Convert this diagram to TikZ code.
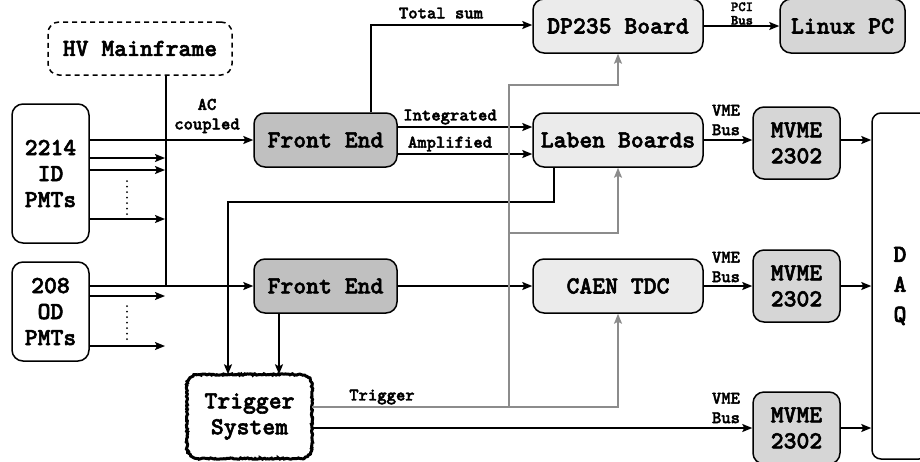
\documentclass[tikz,border=0pt]{standalone}
\usepackage{fontspec}
\newfontfamily\monob{lmmonolt10-bold.otf}[FakeBold=2.2]
\usetikzlibrary{arrows.meta,decorations.pathmorphing}
\newcommand\BigFont{\monob\fontsize{24.5}{26}\selectfont}
\newcommand\DaqFont{\monob\fontsize{24.5}{30}\selectfont}
\newcommand\SmallFont{\monob\fontsize{17.8}{19.5}\selectfont}
\newcommand\PciFont{\monob\fontsize{14}{13.5}\selectfont}
\definecolor{feFill}{HTML}{C0C0C0}
\definecolor{lightFill}{HTML}{EBEBEB}
\definecolor{midFill}{HTML}{D6D6D6}
\definecolor{trigGray}{HTML}{8C8C8C}
\tikzset{
  box/.style={draw, line width=1.5pt, rounded corners=11pt, align=center, font=\BigFont, inner sep=0pt},
  febox/.style={box, fill=feFill, minimum width=143pt, minimum height=54pt},
  lightbox/.style={box, fill=lightFill, minimum width=170pt, minimum height=54pt},
  midbox/.style={box, fill=midFill},
  wire/.style={line width=1.6pt},
  arr/.style={wire, -{Stealth[length=10pt,width=8pt,inset=2pt]}},
  garr/.style={arr, draw=trigGray, color=trigGray},
  lbl/.style={font=\SmallFont, align=center, inner sep=0pt},
  dots/.style={line width=2pt, line cap=round, dash pattern=on 0pt off 5.5pt},
  rough/.style={line width=3pt, decorate, decoration={random steps, segment length=1.3pt, amplitude=0.7pt}},
}
\begin{document}
\begin{tikzpicture}[x=1pt,y=-1pt]
\clip (0,0) rectangle (920,461);
\fill[white] (0,0) rectangle (920,461);

% nodes
\node[box, dashed, dash pattern=on 5pt off 4pt, minimum width=184pt, minimum height=53pt] (hv) at (140,48.5) {HV Mainframe};
\node[box, minimum width=77pt, minimum height=139pt] (id) at (50.5,173.5) {2214\\ID\\PMTs};
\node[box, minimum width=77pt, minimum height=99pt] (od) at (50.5,311.5) {208\\OD\\PMTs};
\node[febox] (fe1) at (325.5,140) {Front End};
\node[febox] (fe2) at (325.5,286) {Front End};
\node[align=center, font=\BigFont, inner sep=0pt, minimum width=125pt, minimum height=84pt] (trig) at (249.5,416.5) {Trigger\\System};
\draw[rough] (198,374.5) -- (301,374.5) arc[start angle=-90, end angle=0, radius=11]
  -- (312,447.5) arc[start angle=0, end angle=90, radius=11]
  -- (198,458.5) arc[start angle=90, end angle=180, radius=11]
  -- (187,385.5) arc[start angle=180, end angle=270, radius=11] -- cycle;
\node[lightbox] (dp) at (618,26) {DP235 Board};
\node[midbox, minimum width=125pt, minimum height=54pt] (pc) at (842.5,26) {Linux PC};
\node[lightbox] (laben) at (618,140) {Laben Boards};
\node[lightbox] (caen) at (618,286) {CAEN TDC};
\node[midbox, minimum width=87pt, minimum height=72pt] (m1) at (796.5,143) {MVME\\2302};
\node[midbox, minimum width=87pt, minimum height=72pt] (m2) at (796.5,286) {MVME\\2302};
\node[midbox, minimum width=87pt, minimum height=72pt] (m3) at (796.5,428) {MVME\\2302};
\node[box, rounded corners=9pt, minimum width=56pt, minimum height=346pt, font=\DaqFont] (daq) at (900,286) {D\\A\\Q};

% HV distribution line
\coordinate (hvj) at (166,286);
\draw[wire] (hv.south -| hvj) -- (hvj);

% ID PMTs
\draw[arr] (id.east |- fe1.west) -- (fe1.west);
\coordinate (ida) at (165,158);
\coordinate (idb) at (165,170);
\coordinate (idc) at (165,219);
\draw[arr] (id.east |- ida) -- (ida);
\draw[arr] (id.east |- idb) -- (idb);
\draw[arr] (id.east |- idc) -- (idc);
\coordinate (idd1) at (127,181);
\coordinate (idd2) at (127,214);
\draw[dots] (idd1) -- (idd2);
\node[lbl] (aclbl) at (207,116) {AC\\coupled};

% OD PMTs
\draw[arr] (od.east |- fe2.west) -- (fe2.west);
\coordinate (oda) at (165,296);
\coordinate (odb) at (165,346);
\draw[arr] (od.east |- oda) -- (oda);
\draw[arr] (od.east |- odb) -- (odb);
\coordinate (odd1) at (127,306);
\coordinate (odd2) at (127,339);
\draw[dots] (odd1) -- (odd2);

% Front end 1 outputs
\coordinate (ts) at (371,25);
\draw[arr] (fe1.north -| ts) -- (ts) -- (dp.west |- ts);
\node[lbl] (tslbl) at (441,13) {Total sum};
\coordinate (intg) at (0,127);
\coordinate (ampl) at (0,154);
\draw[arr] (fe1.east |- intg) -- (laben.west |- intg);
\draw[arr] (fe1.east |- ampl) -- (laben.west |- ampl);
\node[lbl] (intlbl) at (450,117) {Integrated};
\node[lbl] (amplbl) at (450,144) {Amplified};

% Laben to trigger
\coordinate (lt1) at (554,202);
\coordinate (lt2) at (228,202);
\draw[arr] (laben.south -| lt1) -- (lt1) -- (lt2) -- (trig.north -| lt2);

% Front end 2
\coordinate (ft) at (279,0);
\draw[arr] (fe2.south -| ft) -- (trig.north -| ft);
\draw[arr] (fe2.east) -- (caen.west);

% trigger gray lines
\coordinate (tg1) at (509,407);
\coordinate (tg2) at (618,407);
\coordinate (tg3) at (509,85);
\coordinate (tg4) at (618,85);
\coordinate (tg5) at (509,233);
\coordinate (tg6) at (618,233);
\draw[garr] (trig.east |- tg1) -- (tg2) -- (caen.south);
\draw[garr] (tg1) -- (tg3) -- (tg4) -- (dp.south);
\draw[garr] (tg5) -- (tg6) -- (laben.south);
\node[lbl] (trlbl) at (382,397) {Trigger};

% trigger to MVME 3
\draw[arr] (trig.east |- m3.west) -- (m3.west);
\node[lbl] (vb3) at (726,408) {VME\\Bus};

% bus links
\draw[arr] (dp.east) -- (pc.west);
\node[lbl, font=\PciFont] (pcilbl) at (742,13.5) {PCI\\Bus};
\draw[arr] (laben.east) -- (m1.west |- laben.east);
\node[lbl] (vb1) at (726,120) {VME\\Bus};
\draw[arr] (caen.east) -- (m2.west);
\node[lbl] (vb2) at (726,267) {VME\\Bus};

% to DAQ
\draw[arr] (m1.east |- laben.east) -- (daq.west |- laben.east);
\draw[arr] (m2.east) -- (daq.west |- m2.east);
\draw[arr] (m3.east) -- (daq.west |- m3.east);
\end{tikzpicture}
\end{document}
